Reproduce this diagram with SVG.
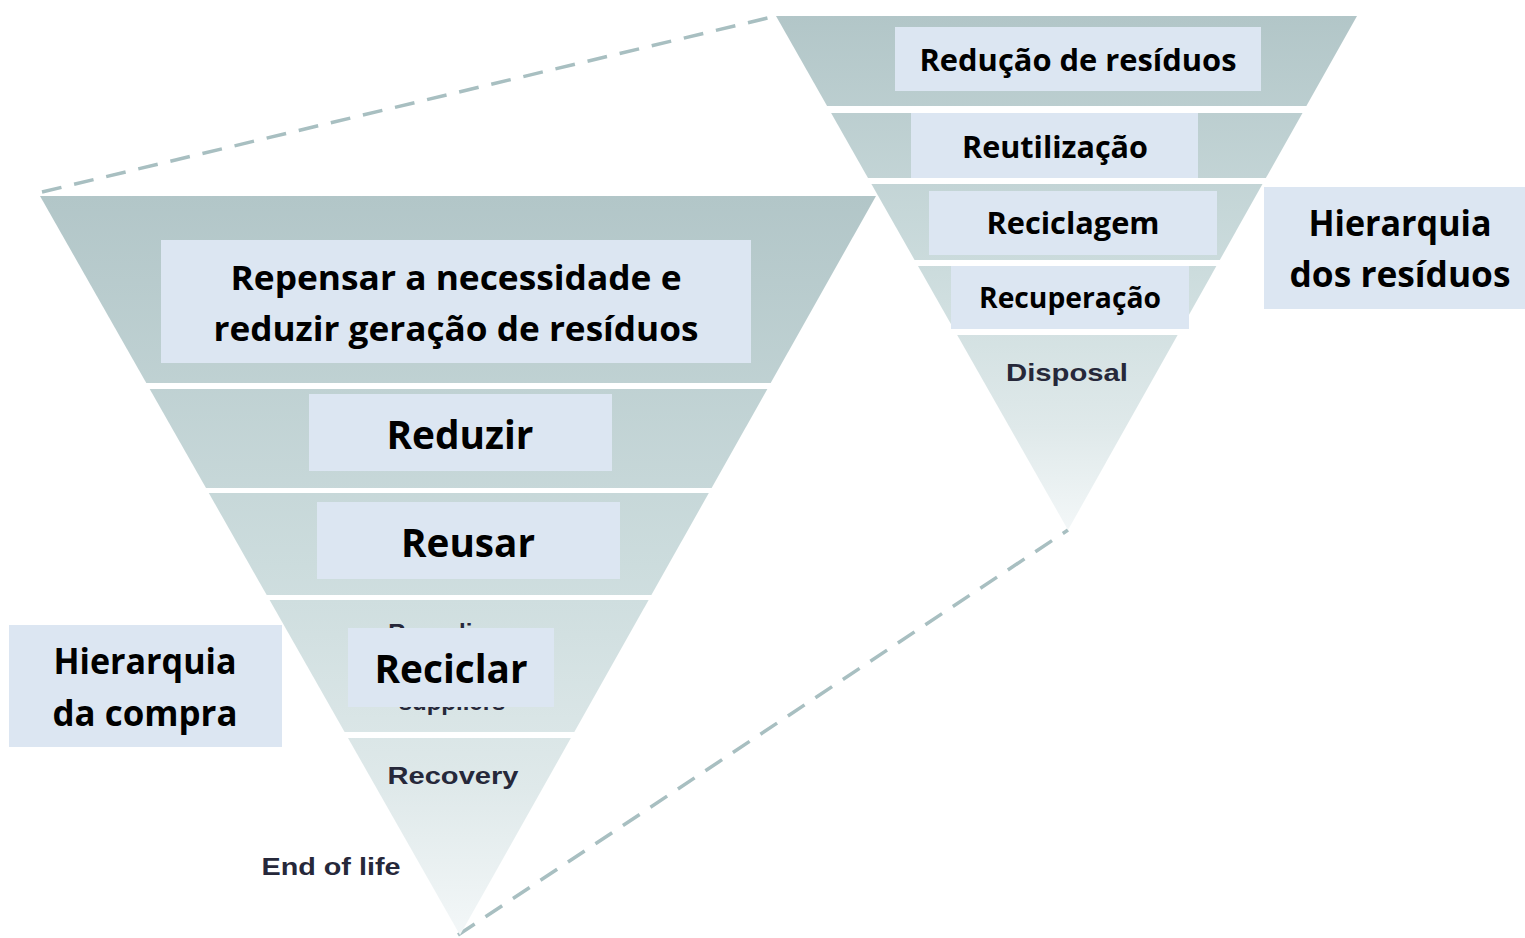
<svg xmlns="http://www.w3.org/2000/svg" width="1525" height="938" viewBox="0 0 1525 938">
<defs>
<linearGradient id="gL" gradientUnits="userSpaceOnUse" x1="0" y1="196" x2="0" y2="935">
<stop offset="0" stop-color="#b2c6c8"/>
<stop offset="0.5" stop-color="#ccdcdd"/>
<stop offset="0.8" stop-color="#dfe9ea"/>
<stop offset="1" stop-color="#f3f7f8"/>
</linearGradient>
<linearGradient id="gR" gradientUnits="userSpaceOnUse" x1="0" y1="16" x2="0" y2="530">
<stop offset="0" stop-color="#b2c6c8"/>
<stop offset="0.5" stop-color="#ccdcdd"/>
<stop offset="0.8" stop-color="#dfe9ea"/>
<stop offset="1" stop-color="#f3f7f8"/>
</linearGradient>
</defs>
<style>
.box{fill:#dce6f2}
.t{font-family:"Open Sans","Noto Sans","Liberation Sans",sans-serif;font-weight:bold;fill:#000;text-anchor:middle}
.e{font-family:"Liberation Sans",Arial,sans-serif;font-weight:bold;fill:#26283a;text-anchor:middle;font-size:24px}
.dash{fill:none;stroke:#a8bfc1;stroke-width:3.5;stroke-dasharray:20 13}
</style>
<g id="connectors">
<line class="dash" x1="42" y1="192" x2="776" y2="16"/>
<line class="dash" x1="458" y1="935" x2="1068" y2="530"/>
</g>
<g id="pyramid-left">
<polygon fill="url(#gL)" points="40,196 876,196 770.7,383 146.3,383"/>
<polygon fill="url(#gL)" points="149.7,389 767.4,389 711.6,488 206,488"/>
<polygon fill="url(#gL)" points="208.8,493 708.8,493 651.4,595 266.7,595"/>
<polygon fill="url(#gL)" points="269.6,600 648.6,600 574.3,732 344.6,732"/>
<polygon fill="url(#gL)" points="348,738 570.9,738 460,935"/>
</g>
<g id="pyramid-right">
<polygon fill="url(#gR)" points="776,16 1357,16 1306.4,106 827.1,106"/>
<polygon fill="url(#gR)" points="831.1,113 1302.5,113 1265.9,178 868,178"/>
<polygon fill="url(#gR)" points="871.4,184 1262.5,184 1219.8,260 914.6,260"/>
<polygon fill="url(#gR)" points="918,266 1216.4,266 1181.6,328 953.2,328"/>
<polygon fill="url(#gR)" points="957.2,335 1177.6,335 1068,530"/>
</g>
<g id="recycling-hidden">
<text class="e" x="445" y="641">Recycling</text>
<text class="e" x="452" y="710">suppliers</text>
</g>
<g id="repensar">
<rect class="box" x="161" y="240" width="590" height="123"/>
<text class="t" x="456" y="290" font-size="34" textLength="451" lengthAdjust="spacingAndGlyphs">Repensar a necessidade e</text>
<text class="t" x="456" y="341" font-size="34" textLength="485" lengthAdjust="spacingAndGlyphs">reduzir geração de resíduos</text>
</g>
<g id="reduzir">
<rect class="box" x="309" y="394" width="303" height="77"/>
<text class="t" x="460" y="449" font-size="40" textLength="147" lengthAdjust="spacingAndGlyphs">Reduzir</text>
</g>
<g id="reusar">
<rect class="box" x="317" y="502" width="303" height="77"/>
<text class="t" x="468" y="557" font-size="40" textLength="134" lengthAdjust="spacingAndGlyphs">Reusar</text>
</g>
<g id="reciclar">
<rect class="box" x="348" y="628" width="206" height="79"/>
<text class="t" x="451" y="683" font-size="40" textLength="153" lengthAdjust="spacingAndGlyphs">Reciclar</text>
</g>
<g id="recovery">
<text class="e" x="453" y="784" textLength="131" lengthAdjust="spacingAndGlyphs">Recovery</text>
</g>
<g id="end-of-life">
<text class="e" x="331" y="875" textLength="139" lengthAdjust="spacingAndGlyphs">End of life</text>
</g>
<g id="hierarquia-compra">
<rect class="box" x="9" y="625" width="273" height="122"/>
<text class="t" x="145" y="674" font-size="36" textLength="183" lengthAdjust="spacingAndGlyphs">Hierarquia</text>
<text class="t" x="145" y="726" font-size="36" textLength="185" lengthAdjust="spacingAndGlyphs">da compra</text>
</g>
<g id="reducao">
<rect class="box" x="895" y="27" width="366" height="64"/>
<text class="t" x="1078" y="71" font-size="30" textLength="317" lengthAdjust="spacingAndGlyphs">Redução de resíduos</text>
</g>
<g id="reutilizacao">
<rect class="box" x="911" y="113" width="287" height="65"/>
<text class="t" x="1055" y="158" font-size="30" textLength="186" lengthAdjust="spacingAndGlyphs">Reutilização</text>
</g>
<g id="reciclagem">
<rect class="box" x="929" y="191" width="288" height="64"/>
<text class="t" x="1073" y="234" font-size="30" textLength="173" lengthAdjust="spacingAndGlyphs">Reciclagem</text>
</g>
<g id="recuperacao">
<rect class="box" x="951" y="266" width="238" height="63"/>
<text class="t" x="1070" y="308" font-size="28" textLength="182" lengthAdjust="spacingAndGlyphs">Recuperação</text>
</g>
<g id="disposal">
<text class="e" x="1067" y="381" textLength="122" lengthAdjust="spacingAndGlyphs">Disposal</text>
</g>
<g id="hierarquia-residuos">
<rect class="box" x="1264" y="187" width="261" height="122"/>
<text class="t" x="1400" y="236" font-size="36" textLength="183" lengthAdjust="spacingAndGlyphs">Hierarquia</text>
<text class="t" x="1400" y="287" font-size="36" textLength="221" lengthAdjust="spacingAndGlyphs">dos resíduos</text>
</g>
</svg>
